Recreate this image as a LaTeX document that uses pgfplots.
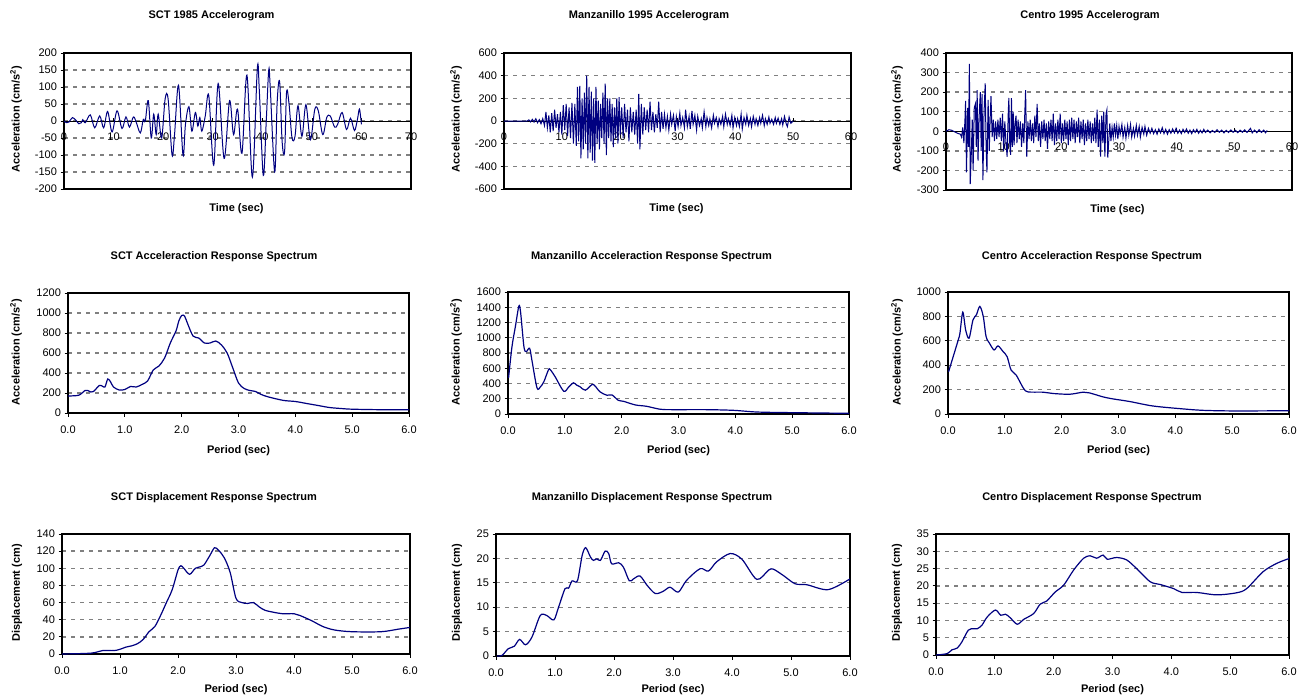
\documentclass[border=0pt]{standalone}
\usepackage{fontspec}
\setmainfont{Liberation Sans}
\usepackage{pgfplots}
\pgfplotsset{compat=1.18}
\definecolor{xlnavy}{RGB}{0,0,128}

\pgfplotsset{
  xlbase/.style={
    scale only axis, anchor=south west,
    axis line style={black, line width=1.3pt},
    ymajorgrids,
    major grid style={draw=gray, line width=1.3pt, dash pattern=on 4pt off 5pt},
    tick style={black, line width=0.8pt},
    major tick length=3.5pt,
    tick align=outside,
    ytick pos=left,
    tick label style={font=\fontsize{11}{13}\selectfont},
    /pgf/number format/assume math mode=true,
    /pgf/number format/1000 sep={},
  },
  % frame + y grid of an accelerogram
  accframe/.style={xlbase, xtick=\empty},
  % zero line with the time ticks, and the record itself
  acczero/.style={
    scale only axis, anchor=south west,
    axis x line*=middle, axis y line=none,
    x axis line style={black, line width=0.8pt},
    tick style={black, line width=0.6pt},
    major tick length=3pt,
    tick label style={font=\fontsize{11}{13}\selectfont},
    xticklabel style={yshift=-8pt},
    /pgf/number format/assume math mode=true,
    xtick distance=10,
  },
  spec/.style={
    xlbase, xmin=0, xmax=6, ymin=0, xtick distance=1, xtick pos=left,
    xticklabel style={/pgf/number format/fixed, /pgf/number format/fixed zerofill,
      /pgf/number format/precision=1, yshift=-6pt},
  },
  rec/.style={xlnavy, line width=1pt, no markers},
  crv/.style={xlnavy, line width=1.2pt, no markers, smooth, tension=0.5},
}

\tikzset{
  ttl/.style={font=\bfseries\fontsize{11}{13}\selectfont},
  lab/.style={font=\bfseries\fontsize{11}{13}\selectfont},
}

\begin{document}
\begin{tikzpicture}
\useasboundingbox (0,0) rectangle (1306pt,-698pt);

% ---------------- row 1: accelerograms ----------------
\begin{axis}[accframe, at={(64pt,-189pt)}, width=347pt, height=136pt,
  xmin=0, xmax=70, ymin=-200, ymax=200, ytick distance=50]
\end{axis}
\begin{axis}[acczero, at={(64pt,-189pt)}, width=347pt, height=136pt,
  xmin=0, xmax=70, ymin=-200, ymax=200]
\addplot[rec, smooth, tension=0.55] coordinates {
(0,0) (0.5,-5) (1.0,-3) (1.7,10) (2.4,2) (3.0,-8) (3.5,-5) (3.8,4) (4.3,-5)
(5.3,18) (6.2,-20) (7.2,15) (8.0,-20) (8.8,28) (9.7,-32) (10.7,30) (11.7,-22)
(12.5,12) (13.2,-18) (14.0,12) (14.6,-5) (15.4,-35) (16.0,5) (16.4,0) (17.0,60)
(17.6,-50) (18.1,20) (18.6,-40) (19.0,20) (19.7,-50) (20.4,65) (21.0,65)
(21.8,-100) (22.3,-40) (23.1,105) (24.0,-100) (24.5,-10) (25.2,42) (25.8,-30)
(26.5,25) (27.0,-15) (27.4,10) (27.8,-30) (28.5,15) (29.2,75) (30.2,-130)
(31.1,110) (32.3,-110) (33.4,60) (34.2,-40) (35.0,35) (35.9,-95) (36.9,135)
(38.0,-165) (39.0,155) (39.4,90) (40.2,-160) (40.8,0) (41.3,150) (41.6,100)
(42.5,-150) (43.0,55) (43.5,115) (44.0,-60) (44.5,-90) (44.9,85) (45.4,50)
(46.0,-50) (46.6,-45) (47.2,45) (48.0,-45) (48.8,48) (49.7,-55) (50.6,35)
(51.3,30) (52.2,-40) (53.0,10) (53.7,15) (54.6,-18) (55.2,-10) (56.1,25)
(57.0,-25) (57.8,8) (58.6,-28) (59.2,5) (59.6,35) (60.0,-10)};
\end{axis}

\begin{axis}[accframe, at={(504pt,-189pt)}, width=347pt, height=136pt,
  xmin=0, xmax=60, ymin=-600, ymax=600, ytick distance=200]
\end{axis}
\begin{axis}[acczero, at={(504pt,-189pt)}, width=347pt, height=136pt,
  xmin=0, xmax=60, ymin=-600, ymax=600]
\addplot[rec] coordinates {
(0,0) (4,0) (4.3,10) (4.6,-8) (4.9,15) (5.2,-10) (5.5,20) (5.8,-15) (6.1,12)
(6.4,-25) (6.7,20) (7.0,-40) (7.25,80) (7.5,-60) (7.75,50) (8.0,-100) (8.25,70)
(8.5,-90) (8.75,100) (9.0,-60) (9.25,60) (9.5,-100) (9.75,80) (10.0,-120)
(10.25,140) (10.5,-80) (10.75,150) (11.0,-130) (11.25,120) (11.5,-150)
(11.75,160) (12.0,-200) (12.25,150) (12.5,-220) (12.7,300) (12.9,-180)
(13.1,310) (13.3,-330) (13.5,200) (13.7,-250) (13.9,250) (14.1,-200) (14.3,400)
(14.5,-330) (14.7,300) (14.9,-280) (15.1,260) (15.3,-350) (15.5,200) (15.7,-370)
(15.9,300) (16.1,-200) (16.3,180) (16.5,-250) (16.7,150) (16.9,-150) (17.1,250)
(17.3,-200) (17.5,330) (17.7,-300) (17.9,200) (18.1,-150) (18.3,200) (18.5,-180)
(18.7,150) (18.9,-230) (19.1,120) (19.3,-150) (19.5,200) (19.7,-200) (19.9,210)
(20.1,-120) (20.35,120) (20.6,-150) (20.85,150) (21.1,-100) (21.35,100)
(21.6,-180) (21.85,120) (22.1,-100) (22.35,80) (22.6,-120) (22.85,100)
(23.1,-200) (23.3,240) (23.5,-250) (23.75,150) (24.0,-120) (24.25,120)
(24.5,-80) (24.75,100) (25.0,-100) (25.25,170) (25.5,-80) (25.75,80) (26.0,-100)
(26.25,60) (26.5,-60) (26.75,170) (27.0,-100) (27.25,80) (27.5,-70) (27.75,60)
(28.0,-60) (28.25,40) (28.5,-80) (28.8,60) (29.0,-30) (29.3,50) (29.6,-90)
(29.8,40) (30.1,-50) (30.4,70) (30.6,-40) (30.9,30) (31.2,-60) (31.4,100)
(31.7,-50) (32.0,40) (32.2,-70) (32.5,90) (32.7,-30) (33.0,50) (33.3,-80)
(33.5,40) (33.8,-40) (34.1,20) (34.3,-60) (34.6,80) (34.9,-50) (35.1,30)
(35.4,-40) (35.6,20) (35.9,-60) (36.2,50) (36.4,-20) (36.7,30) (37.0,-50)
(37.2,20) (37.5,-30) (37.8,40) (38.0,-50) (38.3,60) (38.6,-30) (38.8,20)
(39.1,-40) (39.4,50) (39.6,-60) (39.9,30) (40.2,-40) (40.4,20) (40.7,-50)
(41.0,60) (41.2,-70) (41.5,30) (41.8,-30) (42.0,50) (42.3,-40) (42.6,20)
(42.8,-50) (43.1,40) (43.4,-30) (43.6,20) (43.9,-40) (44.2,30) (44.4,-20)
(44.7,50) (45.0,-40) (45.2,20) (45.5,-30) (45.8,35) (46.0,-20) (46.3,15)
(46.6,-30) (46.9,30) (47.1,-20) (47.4,25) (47.7,-30) (48.0,20) (48.2,-35)
(48.5,40) (48.8,-25) (49.0,-50) (49.3,35) (49.6,-20) (50.0,0)};
\end{axis}

\begin{axis}[accframe, at={(946pt,-190pt)}, width=346pt, height=137pt,
  xmin=0, xmax=60, ymin=-300, ymax=400, ytick distance=100]
\end{axis}
\begin{axis}[acczero, at={(946pt,-190pt)}, width=346pt, height=137pt,
  xmin=0, xmax=60, ymin=-300, ymax=400]
\addplot[rec] coordinates {
(0,0) (0.5,8) (1.0,5) (1.5,-3) (2.0,-10) (2.5,-15) (2.7,-30) (2.9,20) (3.1,-60)
(3.3,70) (3.4,155) (3.55,-210) (3.75,120) (3.9,-80) (4.05,345) (4.2,-270)
(4.4,-100) (4.55,60) (4.7,-200) (4.9,120) (5.1,140) (5.25,-80) (5.4,210)
(5.55,-150) (5.75,80) (5.95,200) (6.1,-100) (6.25,190) (6.4,-250) (6.6,100)
(6.8,245) (6.95,-80) (7.1,-210) (7.3,160) (7.5,-100) (7.65,60) (7.8,180)
(8.0,-30) (8.2,60) (8.4,-50) (8.6,50) (8.8,-40) (9.0,60) (9.2,-30) (9.4,70)
(9.6,-50) (9.8,90) (10.0,-100) (10.2,50) (10.4,-60) (10.6,-130) (10.8,100)
(10.9,170) (11.05,-60) (11.2,-120) (11.35,170) (11.5,-80) (11.65,100) (11.8,-70)
(12.0,50) (12.15,80) (12.3,-60) (12.5,60) (12.7,-40) (12.9,50) (13.1,-80)
(13.3,40) (13.5,-60) (13.65,80) (13.8,210) (14.0,-130) (14.2,50) (14.4,-40)
(14.6,60) (14.8,-50) (15.0,40) (15.2,-60) (15.4,80) (15.6,-30) (15.8,140)
(16.0,-50) (16.2,40) (16.4,-80) (16.6,50) (16.8,-40) (17.0,60) (17.2,-50)
(17.4,40) (17.6,-90) (17.8,50) (18.0,-40) (18.2,60) (18.4,-50) (18.6,90)
(18.8,-70) (19.0,40) (19.2,-50) (19.4,60) (19.6,-40) (19.8,90) (20.0,-60)
(20.2,40) (20.4,-50) (20.6,60) (20.8,-40) (21.0,50) (21.2,-70) (21.4,60)
(21.6,-50) (21.8,70) (22.0,-40) (22.2,60) (22.4,-60) (22.6,50) (22.8,-30)
(23.0,70) (23.2,-60) (23.4,50) (23.6,-40) (23.8,60) (24.0,-70) (24.2,40)
(24.4,-50) (24.6,60) (24.8,-40) (25.0,50) (25.2,-60) (25.4,40) (25.6,-50)
(25.8,70) (26.0,-60) (26.2,110) (26.4,-80) (26.6,60) (26.8,-130) (27.0,80)
(27.2,-60) (27.35,100) (27.55,-130) (27.75,90) (27.9,110) (28.05,-135)
(28.2,-60) (28.4,40) (28.6,-50) (28.8,20) (29.0,-30) (29.2,40) (29.4,-20)
(29.6,30) (29.8,-40) (30.0,25) (30.2,-15) (30.5,35) (30.7,-30) (31.0,20)
(31.2,-35) (31.5,30) (31.7,-20) (32.0,35) (32.2,-30) (32.5,15) (32.7,-25)
(33.0,30) (33.2,-20) (33.5,25) (33.7,-30) (34.0,20) (34.3,-15) (34.5,25)
(34.8,-20) (35.1,15) (35.4,-10) (35.7,15) (36.0,-12) (36.3,8) (36.6,-15)
(36.9,12) (37.2,-8) (37.5,18) (37.8,-12) (38.1,10) (38.4,-15) (38.7,8)
(39.0,-10) (39.3,12) (39.6,-8) (39.9,15) (40.2,-10) (40.5,6) (40.8,-12)
(41.1,10) (41.4,-6) (41.7,12) (42.0,-10) (42.3,6) (42.6,-12) (42.9,8)
(43.2,-6) (43.5,10) (43.8,-10) (44.1,5) (44.4,-8) (44.7,10) (45.0,-6)
(45.4,6) (45.8,-8) (46.2,4) (46.6,-6) (47.0,8) (47.4,-5) (47.8,6) (48.2,-8)
(48.6,5) (49.0,-6) (49.4,7) (49.8,-5) (50.2,5) (50.6,-7) (51.0,6) (51.4,-5)
(51.8,7) (52.2,-6) (52.6,8) (52.8,15) (53.1,-8) (53.5,6) (53.9,-7) (54.3,8)
(54.7,-6) (55.1,6) (55.4,-8) (55.7,4)};
\end{axis}

% ---------------- row 2: acceleration spectra ----------------
\begin{axis}[spec, at={(68pt,-413pt)}, width=341pt, height=120pt,
  ymax=1200, ytick distance=200]
\addplot[crv] coordinates {
(0,170) (0.1,172) (0.2,180) (0.3,225) (0.35,225) (0.4,210) (0.45,215)
(0.55,275) (0.6,270) (0.65,260) (0.7,340) (0.75,310) (0.8,260) (0.9,230)
(1.0,235) (1.1,265) (1.2,260) (1.3,285) (1.4,320) (1.5,430) (1.6,470) (1.7,550)
(1.8,700) (1.9,820) (1.95,920) (2.0,975) (2.05,970) (2.1,900) (2.2,770)
(2.3,750) (2.4,700) (2.5,700) (2.6,720) (2.7,680) (2.8,600) (2.9,450) (3.0,300)
(3.1,245) (3.2,225) (3.3,215) (3.4,185) (3.5,165) (3.6,150) (3.8,125) (4.0,115)
(4.2,95) (4.4,75) (4.6,55) (4.8,45) (5.0,38) (5.5,33) (6.0,32)};
\end{axis}

\begin{axis}[spec, at={(508pt,-414pt)}, width=341pt, height=122pt,
  ymax=1600, ytick distance=200]
\addplot[crv] coordinates {
(0.01,475) (0.07,884) (0.13,1147) (0.19,1411) (0.22,1345) (0.28,884)
(0.32,818) (0.38,862) (0.42,708) (0.51,343) (0.57,356) (0.63,422) (0.71,576)
(0.74,585) (0.83,488) (0.98,299) (1.07,356) (1.15,409) (1.21,378) (1.27,356)
(1.36,312) (1.48,387) (1.53,369) (1.62,290) (1.74,246) (1.83,250) (1.94,180)
(2.03,167) (2.24,119) (2.44,101) (2.68,62) (2.91,57) (3.5,57) (3.97,48)
(4.38,26) (4.96,18) (6.0,9)};
\end{axis}

\begin{axis}[spec, at={(948pt,-414pt)}, width=341pt, height=122pt,
  ymax=1000, ytick distance=200]
\addplot[crv] coordinates {
(0.01,346) (0.18,607) (0.21,662) (0.26,835) (0.31,690) (0.37,621) (0.44,772)
(0.5,813) (0.56,882) (0.62,800) (0.67,635) (0.73,580) (0.81,525) (0.88,558)
(0.97,511) (1.04,470) (1.11,360) (1.2,319) (1.33,209) (1.41,181) (1.67,179)
(1.85,168) (2.14,162) (2.38,179) (2.49,173) (2.73,140) (2.9,124) (3.2,102)
(3.6,66) (4.08,44) (4.49,30) (5.07,25) (6.0,27)};
\end{axis}

% ---------------- row 3: displacement spectra ----------------
\begin{axis}[spec, at={(62pt,-654pt)}, width=348pt, height=120pt,
  ymax=140, ytick distance=20]
\addplot[crv] coordinates {
(0,0) (0.5,1) (0.7,4) (0.9,4) (1.0,5.5) (1.1,8) (1.2,9.5) (1.3,12) (1.4,17)
(1.5,26) (1.6,32) (1.7,45) (1.8,60) (1.9,75) (2.0,98) (2.05,103) (2.1,100)
(2.2,93) (2.3,100) (2.4,102) (2.45,104) (2.55,115) (2.63,124) (2.7,121)
(2.8,112) (2.9,95) (3.0,65) (3.1,60) (3.2,59) (3.3,60) (3.4,55) (3.5,51)
(3.7,48) (3.8,47) (4.0,47) (4.1,45) (4.3,39) (4.5,32) (4.7,28) (5.0,26)
(5.5,26) (5.8,29) (6.0,31)};
\end{axis}

\begin{axis}[spec, at={(496pt,-656pt)}, width=354pt, height=122pt,
  ymax=25, ytick distance=5]
\addplot[crv] coordinates {
(0.02,0) (0.1,0.1) (0.21,1.5) (0.31,2.0) (0.4,3.4) (0.5,2.3) (0.61,3.9)
(0.75,8.3) (0.86,8.3) (0.98,7.4) (1.06,10) (1.17,13.8) (1.23,13.9) (1.29,15.4)
(1.38,15.4) (1.46,20.6) (1.52,22.2) (1.6,20.3) (1.65,19.6) (1.71,19.9)
(1.77,19.6) (1.85,21.5) (1.91,21.0) (1.96,18.9) (2.08,19.1) (2.16,18.2)
(2.26,15.4) (2.33,15.8) (2.44,16.4) (2.56,14.5) (2.70,12.8) (2.84,13.3)
(2.95,14.1) (3.09,13.1) (3.23,15.5) (3.46,17.9) (3.6,17.4) (3.74,19.3)
(3.97,21.0) (4.17,19.8) (4.42,15.7) (4.62,17.6) (4.7,17.8) (4.87,16.5)
(5.07,14.8) (5.27,14.6) (5.63,13.6) (6.0,15.8)};
\end{axis}

\begin{axis}[spec, at={(936pt,-655pt)}, width=353pt, height=121pt,
  ymax=35, ytick distance=5]
\addplot[crv] coordinates {
(0,0) (0.19,0.4) (0.27,1.5) (0.36,2.0) (0.44,3.8) (0.55,7.2) (0.64,7.6)
(0.70,7.6) (0.78,8.6) (0.87,11.0) (1.01,13.0) (1.10,11.5) (1.18,11.8)
(1.26,10.8) (1.38,8.9) (1.49,10.3) (1.66,12.0) (1.77,14.7) (1.88,15.6)
(2.03,18.3) (2.17,20.2) (2.34,24.6) (2.51,28.0) (2.62,28.7) (2.73,28.0)
(2.84,28.9) (2.91,27.7) (3.07,28.2) (3.24,27.5) (3.41,25.0) (3.64,21.2)
(3.81,20.4) (4.04,19.2) (4.18,18.1) (4.43,18.1) (4.77,17.4) (5.11,18.0)
(5.28,19.2) (5.56,24.1) (5.79,26.5) (6.0,27.9)};
\end{axis}

% ---------------- titles and axis labels ----------------
\node[ttl] at (211.5pt,-16pt) {SCT 1985 Accelerogram};
\node[ttl] at (649pt,-16pt) {Manzanillo 1995 Accelerogram};
\node[ttl] at (1090pt,-16pt) {Centro 1995 Accelerogram};
\node[ttl] at (214pt,-257pt) {SCT Acceleraction Response Spectrum};
\node[ttl] at (651.5pt,-257pt) {Manzanillo Acceleraction Response Spectrum};
\node[ttl] at (1092pt,-257pt) {Centro Acceleraction Response Spectrum};
\node[ttl] at (214pt,-498pt) {SCT Displacement Response Spectrum};
\node[ttl] at (652pt,-498pt) {Manzanillo Displacement Response Spectrum};
\node[ttl] at (1092pt,-498pt) {Centro Displacement Response Spectrum};

\node[lab] at (236.5pt,-209pt) {Time (sec)};
\node[lab] at (676.5pt,-209pt) {Time (sec)};
\node[lab] at (1117.5pt,-210pt) {Time (sec)};
\node[lab] at (238.5pt,-451pt) {Period (sec)};
\node[lab] at (678.5pt,-451pt) {Period (sec)};
\node[lab] at (1118.5pt,-451pt) {Period (sec)};
\node[lab] at (236pt,-690pt) {Period (sec)};
\node[lab] at (673pt,-690pt) {Period (sec)};
\node[lab] at (1112.5pt,-690pt) {Period (sec)};

\node[lab, rotate=90] at (16pt,-119pt) {Acceleration (cm/s\textsuperscript{2})};
\node[lab, rotate=90] at (456pt,-119pt) {Acceleration (cm/s\textsuperscript{2})};
\node[lab, rotate=90] at (897pt,-119pt) {Acceleration (cm/s\textsuperscript{2})};
\node[lab, rotate=90] at (16pt,-352pt) {Acceleration (cm/s\textsuperscript{2})};
\node[lab, rotate=90] at (456pt,-352pt) {Acceleration (cm/s\textsuperscript{2})};
\node[lab, rotate=90] at (897pt,-352pt) {Acceleration (cm/s\textsuperscript{2})};
\node[lab, rotate=90] at (17pt,-593pt) {Displacement (cm)};
\node[lab, rotate=90] at (457pt,-593pt) {Displacement (cm)};
\node[lab, rotate=90] at (897pt,-593pt) {Displacement (cm)};
\end{tikzpicture}
\end{document}
